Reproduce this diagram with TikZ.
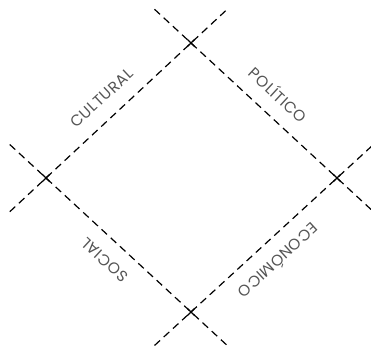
\documentclass[tikz,border=0pt]{standalone}
\usepackage{fontspec}
\setmainfont{Poppins}
\usetikzlibrary{calc,shapes.misc}
\definecolor{labelgray}{RGB}{85,85,85}

\begin{document}
\begin{tikzpicture}[x=1pt, y=1pt,
    dline/.style={draw=black, line width=1.2pt, dash pattern=on 7.5pt off 5pt},
    xmark/.style={cross out, draw=black, line width=1.4pt, minimum size=5pt, inner sep=0pt},
    axislabel/.style={sloped, allow upside down, anchor=base, yshift=15pt,
        text=labelgray, font=\fontsize{15.5}{17}\selectfont\addfontfeatures{LetterSpace=4}}]

    \useasboundingbox (0,0) rectangle (371,345);
    \clip (0,0) rectangle (371,345);

    % Intersections
    \node[xmark] (top) at (191,302) {};
    \node[xmark] (left) at (46,167) {};
    \node[xmark] (right) at (337,167) {};
    \node[xmark] (bottom) at (191,33) {};

    % Free ends of the lines
    \coordinate (cul-a) at ($(left.center)!-0.25!(top.center)$);
    \coordinate (cul-b) at ($(top.center)!-0.25!(left.center)$);
    \coordinate (pol-a) at ($(top.center)!-0.25!(right.center)$);
    \coordinate (pol-b) at ($(right.center)!-0.25!(top.center)$);
    \coordinate (soc-a) at ($(left.center)!-0.25!(bottom.center)$);
    \coordinate (soc-b) at ($(bottom.center)!-0.25!(left.center)$);
    \coordinate (eco-a) at ($(bottom.center)!-0.25!(right.center)$);
    \coordinate (eco-b) at ($(right.center)!-0.25!(bottom.center)$);

    % Lines
    \draw[dline] (cul-a) -- (cul-b);
    \draw[dline] (pol-a) -- (pol-b);
    \draw[dline] (soc-a) -- (soc-b);
    \draw[dline] (eco-a) -- (eco-b);

    % Labels
    \path (left) -- node[axislabel, pos=0.48] (cul) {CULTURAL} (top);
    \path (top) -- node[axislabel, pos=0.5] (pol) {POLÍTICO} (right);
    \path (bottom) -- node[axislabel, pos=0.5] (soc) {SOCIAL} (left);
    \path (right) -- node[axislabel, pos=0.5] (eco) {ECONÓMICO} (bottom);
\end{tikzpicture}
\end{document}
